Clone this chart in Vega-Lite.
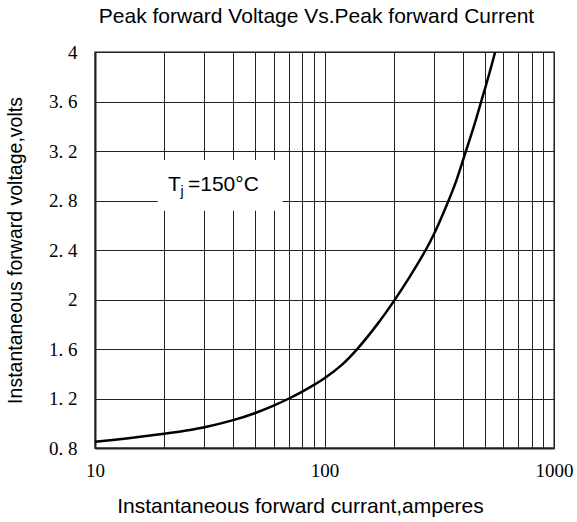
{
  "$schema": "https://vega.github.io/schema/vega-lite/v6.json",
  "width": 459,
  "height": 396,
  "autosize": {"type": "none"},
  "padding": {"left": 95, "top": 52, "right": 23, "bottom": 74},
  "background": "white",
  "config": {
    "view": {"stroke": "#888888", "strokeWidth": 2},
    "font": "Liberation Sans"
  },
  "title": {
    "text": "Peak forward Voltage Vs.Peak forward Current",
    "font": "Liberation Sans",
    "fontSize": 21,
    "fontWeight": "normal",
    "color": "black",
    "anchor": "middle",
    "offset": 16,
    "dx": -8
  },
  "encoding": {
    "x": {
      "field": "current",
      "type": "quantitative",
      "scale": {"type": "log", "domain": [10, 1000]},
      "axis": {
        "values": [10, 20, 30, 40, 50, 60, 70, 80, 90, 100, 200, 300, 400, 500, 600, 700, 800, 900, 1000],
        "format": "d",
        "labelExpr": "(datum.value == 10 || datum.value == 100 || datum.value == 1000) ? datum.label : ''",
        "labelOverlap": false,
        "labelBound": false,
        "labelFlush": false,
        "grid": true,
        "gridColor": "#222222",
        "gridWidth": 1,
        "gridOpacity": 1,
        "ticks": false,
        "domainColor": "#222222",
        "domainWidth": 2,
        "labelFont": "Liberation Serif",
        "labelFontSize": 19,
        "labelColor": "black",
        "labelPadding": 13,
        "title": "Instantaneous forward currant,amperes",
        "titleFont": "Liberation Sans",
        "titleFontSize": 21,
        "titleFontWeight": "normal",
        "titleColor": "black",
        "titleX": 205,
        "titleY": 64,
        "titleBaseline": "alphabetic"
      }
    },
    "y": {
      "field": "voltage",
      "type": "quantitative",
      "scale": {"domain": [0.8, 4]},
      "axis": {
        "values": [0.8, 1.2, 1.6, 2, 2.4, 2.8, 3.2, 3.6, 4],
        "format": "~g",
        "labelExpr": "replace(datum.label, '.', '. ')",
        "labelOverlap": false,
        "labelBound": false,
        "labelFlush": false,
        "grid": true,
        "gridColor": "#222222",
        "gridWidth": 1,
        "gridOpacity": 1,
        "ticks": false,
        "domainColor": "#222222",
        "domainWidth": 2,
        "labelFont": "Liberation Serif",
        "labelFontSize": 19,
        "labelColor": "black",
        "labelPadding": 18,
        "title": "Instantaneous forward voltage,volts",
        "titleFont": "Liberation Sans",
        "titleFontSize": 19.5,
        "titleFontWeight": "normal",
        "titleColor": "black",
        "titleX": -80,
        "titleY": 198,
        "titleAlign": "center",
        "titleBaseline": "middle"
      }
    }
  },
  "layer": [
    {
      "data": {
        "values": [
          {"current": 10, "voltage": 0.85},
          {"current": 14, "voltage": 0.879},
          {"current": 20, "voltage": 0.915},
          {"current": 25, "voltage": 0.941},
          {"current": 30, "voltage": 0.968},
          {"current": 40, "voltage": 1.025},
          {"current": 50, "voltage": 1.083},
          {"current": 60, "voltage": 1.142},
          {"current": 70, "voltage": 1.2},
          {"current": 80, "voltage": 1.256},
          {"current": 90, "voltage": 1.31},
          {"current": 100, "voltage": 1.363},
          {"current": 120, "voltage": 1.478},
          {"current": 138.5, "voltage": 1.597},
          {"current": 170, "voltage": 1.801},
          {"current": 200.9, "voltage": 1.989},
          {"current": 235, "voltage": 2.183},
          {"current": 276.8, "voltage": 2.404},
          {"current": 300, "voltage": 2.529},
          {"current": 342, "voltage": 2.77},
          {"current": 375, "voltage": 2.959},
          {"current": 411.6, "voltage": 3.189},
          {"current": 450, "voltage": 3.413},
          {"current": 483, "voltage": 3.607},
          {"current": 520, "voltage": 3.812},
          {"current": 556, "voltage": 4.01}
        ]
      },
      "mark": {"type": "line", "color": "black", "strokeWidth": 2.5, "interpolate": "catmull-rom", "clip": true}
    },
    {
      "data": {"values": [{"current": 18.76, "current2": 65.6, "voltage": 2.718, "voltage2": 3.127}]},
      "mark": {"type": "rect", "fill": "white", "stroke": null},
      "encoding": {
        "x2": {"field": "current2"},
        "y2": {"field": "voltage2"}
      }
    },
    {
      "data": {"values": [{"current": 20.8, "voltage": 2.879, "label": "T"}]},
      "mark": {"type": "text", "align": "left", "baseline": "alphabetic", "fontSize": 21, "font": "Liberation Sans", "color": "black"},
      "encoding": {"text": {"field": "label"}}
    },
    {
      "data": {"values": [{"current": 20.8, "voltage": 2.879, "label": "j"}]},
      "mark": {"type": "text", "align": "left", "baseline": "alphabetic", "fontSize": 14, "dx": 12.5, "dy": 5, "font": "Liberation Sans", "color": "black"},
      "encoding": {"text": {"field": "label"}}
    },
    {
      "data": {"values": [{"current": 20.8, "voltage": 2.879, "label": "=150°C"}]},
      "mark": {"type": "text", "align": "left", "baseline": "alphabetic", "fontSize": 21, "dx": 20, "font": "Liberation Sans", "color": "black"},
      "encoding": {"text": {"field": "label"}}
    }
  ]
}
